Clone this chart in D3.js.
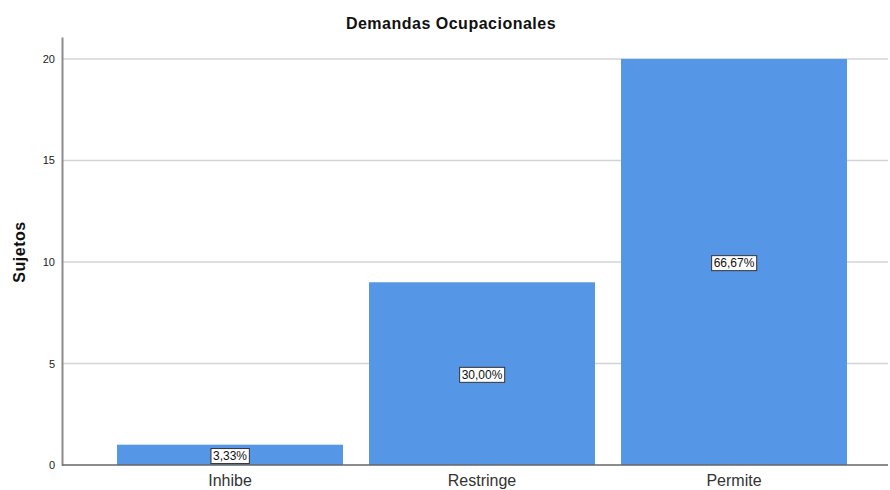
<!DOCTYPE html>
<html><head><meta charset="utf-8">
<script src="https://cdn.jsdelivr.net/npm/d3@7"></script>
<style>body{margin:0;background:#fff}svg{display:block}</style>
</head><body>
<svg id="c" width="890" height="490"></svg>
<script>
const categories = ["Inhibe", "Restringe", "Permite"];
const values = [1, 9, 20];
const percentLabels = ["3,33%", "30,00%", "66,67%"];
const yTicks = [0, 5, 10, 15, 20];

(function() {
const svg = d3.select("#c");
const pLeft = 62, pRight = 888, pTop = 37, pBottom = 465;
const x = d3.scaleBand().domain(categories).range([104, 860]).paddingInner(26/252).paddingOuter(26/252/2);
const y = d3.scaleLinear().domain([0, 21.08]).range([pBottom, pTop]);
const FF = "Arial, 'Liberation Sans', sans-serif";

// gridlines
svg.append("g").selectAll("line").data(yTicks.filter(d => d > 0)).join("line")
  .attr("x1", pLeft).attr("x2", pRight).attr("y1", d => y(d)).attr("y2", d => y(d))
  .attr("stroke", "#d4d4d4").attr("stroke-width", 1.5);

// bars
svg.append("g").selectAll("rect").data(values).join("rect")
  .attr("x", (d, i) => x(categories[i])).attr("width", x.bandwidth())
  .attr("y", d => y(d)).attr("height", d => pBottom - y(d))
  .attr("fill", "#5596e6");

// axes
const yAxis = d3.axisLeft(y).tickValues(yTicks).tickSize(0).tickPadding(7);
const gy = svg.append("g").attr("transform", `translate(${pLeft},0)`).call(yAxis);
gy.select(".domain").attr("stroke", "#8c8c8c").attr("stroke-width", 2);
gy.selectAll("text").attr("font-family", FF).attr("font-size", 11).attr("fill", "#222");

const xAxis = d3.axisBottom(x).tickSize(0).tickPadding(10);
const gx = svg.append("g").attr("transform", `translate(0,${pBottom})`).call(xAxis);
gx.select(".domain").remove();
svg.append("line").attr("x1", pLeft).attr("x2", pRight).attr("y1", pBottom).attr("y2", pBottom)
  .attr("stroke", "#666").attr("stroke-width", 1.5);
gx.selectAll("text").attr("font-family", FF).attr("font-size", 16).attr("fill", "#333");

// labels
const lg = svg.append("g").selectAll("g").data(values).join("g")
  .attr("transform", (d, i) => `translate(${x(categories[i]) + x.bandwidth()/2},${y(d/2) + 1})`);
lg.each(function(d, i) {
  const g = d3.select(this);
  const t = g.append("text").text(percentLabels[i]).attr("text-anchor", "middle").attr("dy", "0.35em")
    .attr("font-family", FF).attr("font-size", 12).attr("fill", "#111");
  const bb = t.node().getBBox();
  g.insert("rect", "text").attr("x", bb.x - 2).attr("y", bb.y - 0.5).attr("width", bb.width + 4).attr("height", bb.height + 1)
    .attr("fill", "#fff").attr("stroke", "#333").attr("stroke-width", 1);
});

// title
svg.append("text").attr("x", 451).attr("y", 29).attr("text-anchor", "middle")
  .attr("font-family", FF).attr("font-size", 16).attr("letter-spacing", 0.5).attr("font-weight", "bold").attr("fill", "#111")
  .text("Demandas Ocupacionales");
svg.append("text").attr("transform", "translate(25,252) rotate(-90)").attr("text-anchor", "middle")
  .attr("font-family", FF).attr("font-size", 16).attr("letter-spacing", 0.5).attr("font-weight", "bold").attr("fill", "#111")
  .text("Sujetos");
})();
</script>
</body></html>
